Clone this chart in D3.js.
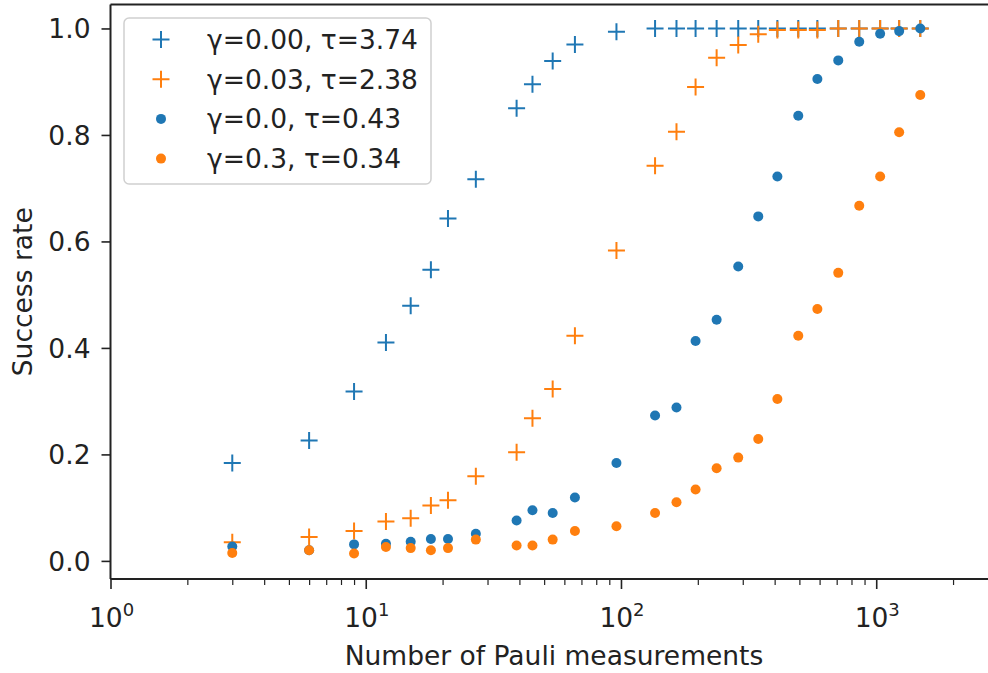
<!DOCTYPE html>
<html>
<head>
<meta charset="utf-8">
<script src="https://cdn.jsdelivr.net/npm/d3@7"></script>
<style>
  body { margin: 0; background: #fff; }
  text { font-family: "DejaVu Sans", sans-serif; fill: #222; }
</style>
</head>
<body>
<div id="viz"></div>
<script>
const width = 988;
const height = 673;
const margin = {top: 4.5, left: 110.5, bottom: 579};
const plotRight = 998; // the right part of the axes is cut by the picture
const blue = '#1f77b4';
const orange = '#ff7f0e';
const fontSize = 26.5;

// data
const nMeas = [3, 6, 9, 12, 15, 18, 21, 27, 39, 45, 54, 66, 96, 136, 165, 196, 237, 288, 345, 410, 495, 588, 710, 858, 1036, 1230, 1488];
const plusG000 = [0.184, 0.226, 0.318, 0.41, 0.479, 0.547, 0.643, 0.717, 0.850, 0.895, 0.939, 0.970, 0.994,
  1, 1, 1, 1, 1, 1, 1, 1, 1, 1, 1, 1, 1, 1];
const plusG003 = [0.035, 0.045, 0.056, 0.074, 0.080, 0.104, 0.114, 0.159, 0.204, 0.268, 0.323, 0.423, 0.583,
  0.742, 0.806, 0.890, 0.945, 0.969, 0.989, 0.997, 0.997, 0.997, 1, 1, 1, 1, 1];
const dotG00 = [0.027, 0.020, 0.031, 0.032, 0.036, 0.041, 0.041, 0.051, 0.076, 0.095, 0.090, 0.119, 0.184,
  0.273, 0.288, 0.413, 0.453, 0.553, 0.647, 0.722, 0.836, 0.905, 0.940, 0.975, 0.990, 0.995, 1.0];
const dotG03 = [0.015, 0.020, 0.014, 0.026, 0.024, 0.020, 0.024, 0.040, 0.029, 0.029, 0.040, 0.056, 0.065,
  0.090, 0.110, 0.134, 0.174, 0.194, 0.229, 0.304, 0.423, 0.473, 0.541, 0.667, 0.722, 0.805, 0.875];

const series = [
  {label: 'γ=0.00, τ=3.74', values: plusG000, color: blue, marker: 'plus'},
  {label: 'γ=0.03, τ=2.38', values: plusG003, color: orange, marker: 'plus'},
  {label: 'γ=0.0, τ=0.43', values: dotG00, color: blue, marker: 'dot'},
  {label: 'γ=0.3, τ=0.34', values: dotG03, color: orange, marker: 'dot'}
];

const yTicks = [0.0, 0.2, 0.4, 0.6, 0.8, 1.0];
const xTicks = [1, 10, 100, 1000];

const svg = d3.select('#viz')
  .append('svg')
    .attr('width', width)
    .attr('height', height);

const xScale = d3.scaleLog()
  .domain([1, 3000])
  .range([margin.left, plotRight]);

const yScale = d3.scaleLinear()
  .domain([-0.034, 1.045])
  .range([margin.bottom, margin.top]);

// y axis
const yAxis = svg.append('g')
  .attr('transform', `translate(${margin.left}, 0)`)
  .call(d3.axisLeft(yScale).tickValues(yTicks).tickFormat(d3.format('.1f')).tickSize(9).tickPadding(11));
yAxis.select('.domain').remove();
yAxis.selectAll('line').attr('stroke', '#222').attr('stroke-width', 1.6);
yAxis.selectAll('text').style('font-size', fontSize + 'px').attr('dy', '0.35em');

// x axis major ticks
const xAxis = svg.append('g')
  .attr('transform', `translate(0, ${margin.bottom})`)
  .call(d3.axisBottom(xScale).tickValues(xTicks).tickFormat('').tickSize(10));
xAxis.select('.domain').remove();
xAxis.selectAll('line').attr('stroke', '#222').attr('stroke-width', 1.6);

// x axis minor ticks
const minor = [];
[1, 10, 100, 1000].forEach(dec => {
  for (let k = 2; k <= 9; k++) if (dec * k <= 3000) minor.push(dec * k);
});
svg.append('g')
  .attr('transform', `translate(0, ${margin.bottom})`)
  .call(d3.axisBottom(xScale).tickValues(minor).tickFormat('').tickSize(6))
  .call(g => g.select('.domain').remove())
  .selectAll('line').attr('stroke', '#222').attr('stroke-width', 1.2);

// x tick labels as 10^n
const xLabels = svg.append('g');
xTicks.forEach(t => {
  const txt = xLabels.append('text')
    .attr('x', xScale(t) + 1)
    .attr('y', 627)
    .attr('text-anchor', 'middle')
    .style('font-size', fontSize + 'px');
  txt.append('tspan').text('10');
  txt.append('tspan')
    .attr('dy', -11)
    .style('font-size', '18px')
    .text(Math.round(Math.log10(t)));
});

// spines
svg.append('line')
  .attr('x1', margin.left).attr('x2', margin.left)
  .attr('y1', margin.top).attr('y2', margin.bottom)
  .attr('stroke', '#222').attr('stroke-width', 2);
svg.append('line')
  .attr('x1', margin.left).attr('x2', width)
  .attr('y1', margin.bottom).attr('y2', margin.bottom)
  .attr('stroke', '#222').attr('stroke-width', 2);
svg.append('line')
  .attr('x1', margin.left).attr('x2', width)
  .attr('y1', margin.top).attr('y2', margin.top)
  .attr('stroke', '#222').attr('stroke-width', 2);

// axis labels
svg.append('text')
  .attr('x', 554)
  .attr('y', 665)
  .attr('text-anchor', 'middle')
  .style('font-size', fontSize + 'px')
  .text('Number of Pauli measurements');

svg.append('text')
  .attr('transform', `translate(32, ${(margin.top + margin.bottom) / 2}) rotate(-90)`)
  .attr('text-anchor', 'middle')
  .style('font-size', fontSize + 'px')
  .text('Success rate');

// markers
const drawMarker = (g, marker, color) => {
  if (marker === 'plus') {
    g.append('path')
      .attr('d', 'M-8.5,0H8.5M0,-8.5V8.5')
      .attr('stroke', color)
      .attr('stroke-width', 2)
      .attr('fill', 'none');
  } else {
    g.append('circle')
      .attr('r', 5)
      .attr('fill', color);
  }
};

series.forEach(s => {
  const g = svg.append('g');
  nMeas.forEach((n, i) => {
    const m = g.append('g')
      .attr('transform', `translate(${xScale(n)}, ${yScale(s.values[i])})`);
    drawMarker(m, s.marker, s.color);
  });
});

// legend
const legend = svg.append('g');
legend.append('rect')
  .attr('x', 124).attr('y', 18)
  .attr('width', 307).attr('height', 166)
  .attr('rx', 5)
  .attr('fill', 'white').attr('fill-opacity', 0.8)
  .attr('stroke', '#d0d0d0').attr('stroke-width', 1.5);
series.forEach((s, i) => {
  const yy = 39.5 + i * 39.7;
  const m = legend.append('g').attr('transform', `translate(161, ${yy})`);
  drawMarker(m, s.marker, s.color);
  legend.append('text')
    .attr('x', 207)
    .attr('y', yy)
    .attr('dy', '0.36em')
    .style('font-size', fontSize + 'px')
    .text(s.label);
});
</script>
</body>
</html>
